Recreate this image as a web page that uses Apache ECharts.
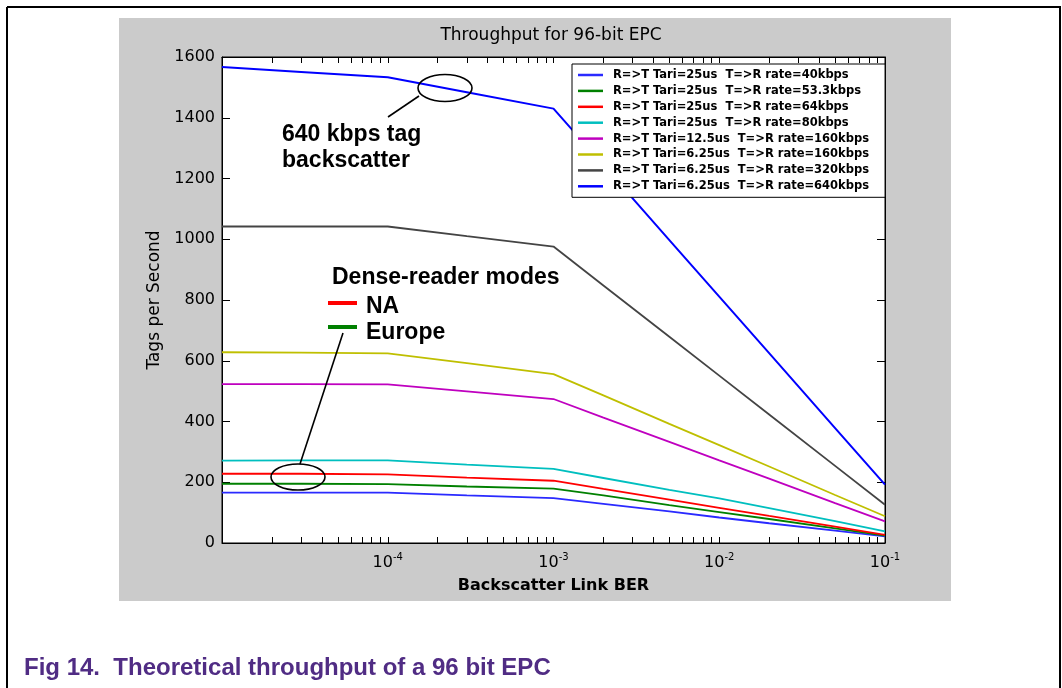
<!DOCTYPE html>
<html>
<head>
<meta charset="utf-8">
<script src="https://cdn.jsdelivr.net/npm/echarts@6/dist/echarts.min.js"></script>
<style>
  html, body { margin: 0; padding: 0; background: #fff; }
  #chart { width: 1062px; height: 688px; }
</style>
</head>
<body>
<div id="chart"></div>
<script>
// backscatter link BER (x) and tags per second for each mode
var ber = [1e-5, 3e-5, 1e-4, 3e-4, 1e-3, 2e-3, 5e-3, 1e-2, 2e-2, 5e-2, 1e-1];
var rate40 = [166, 166, 166, 157, 148, 129, 104, 84, 65, 41, 22];
var rate53 = [195, 195, 194, 186, 179, 157, 125, 102, 79, 48, 24];
var rate64 = [228, 228, 226, 215, 205, 178, 143, 116, 89, 54, 27];
var rate80 = [271, 272, 272, 258, 244, 214, 175, 147, 115, 72, 38];
var rate160a = [523, 523, 522, 499, 474, 413, 333, 272, 212, 131, 71];
var rate160b = [628, 627, 624, 592, 556, 486, 392, 322, 252, 158, 88];
var rate320 = [1042, 1042, 1042, 1010, 976, 848, 679, 551, 423, 254, 126];
var rate640 = [1567, 1551, 1533, 1484, 1430, 1244, 997, 811, 625, 378, 192];

var names = [
  'R=>T Tari=25us  T=>R rate=40kbps',
  'R=>T Tari=25us  T=>R rate=53.3kbps',
  'R=>T Tari=25us  T=>R rate=64kbps',
  'R=>T Tari=25us  T=>R rate=80kbps',
  'R=>T Tari=12.5us  T=>R rate=160kbps',
  'R=>T Tari=6.25us  T=>R rate=160kbps',
  'R=>T Tari=6.25us  T=>R rate=320kbps',
  'R=>T Tari=6.25us  T=>R rate=640kbps'
];
var colors = ['#2a2aff', '#008000', '#ff0000', '#00bfbf', '#bf00bf', '#bfbf00', '#444444', '#0000ff'];
var allRates = [rate40, rate53, rate64, rate80, rate160a, rate160b, rate320, rate640];

// log axis ticks
var xLabelValues = [1e-4, 1e-3, 1e-2, 1e-1];
var xTickValues = [];
[1e-5, 1e-4, 1e-3, 1e-2].forEach(function (d) {
  for (var m = 1; m <= 10; m++) xTickValues.push(+(d * m).toPrecision(3));
});

var font = 'DejaVu Sans';
var annFont = 'bold 23px "Liberation Sans"';

var chart = echarts.init(document.getElementById('chart'));

var series = allRates.map(function (vals, i) {
  return {
    name: names[i],
    type: 'line',
    xAxisIndex: 0,
    yAxisIndex: 0,
    symbol: 'none',
    silent: true,
    data: ber.map(function (b, j) { return [b, vals[j]]; }),
    lineStyle: { color: colors[i], width: i === 7 ? 2 : 1.8 },
    itemStyle: { color: colors[i] }
  };
});

function xAxisBase(pos) {
  return {
    type: 'log', logBase: 10, min: 1e-5, max: 1e-1, position: pos,
    axisLine: { onZero: false, lineStyle: { color: '#000', width: 1 } },
    axisTick: { inside: true, length: 6, customValues: xTickValues, lineStyle: { color: '#000' } },
    splitLine: { show: false }
  };
}
function yAxisBase(pos) {
  return {
    type: 'value', min: 0, max: 1600, interval: 200, position: pos,
    axisLine: { show: true, onZero: false, lineStyle: { color: '#000', width: 1 } },
    axisTick: { show: true, inside: true, length: 8, lineStyle: { color: '#000' } },
    splitLine: { show: false }
  };
}

var xBottom = xAxisBase('bottom');
xBottom.name = 'Backscatter Link BER';
xBottom.nameLocation = 'middle';
xBottom.nameGap = 35;
xBottom.nameTextStyle = { fontFamily: font, fontWeight: 'bold', fontSize: 16, color: '#000' };
xBottom.axisLabel = {
  customValues: xLabelValues,
  margin: 9,
  formatter: function (v) { return '{b|10}{s|' + Math.round(Math.log10(v)) + '}'; },
  rich: {
    b: { fontFamily: font, fontSize: 16, color: '#000', lineHeight: 22 },
    s: { fontFamily: font, fontSize: 10, color: '#000', lineHeight: 6, verticalAlign: 'top' }
  }
};
var xTop = xAxisBase('top');
xTop.axisLabel = { show: false };

var yLeft = yAxisBase('left');
yLeft.name = 'Tags per Second';
yLeft.nameLocation = 'middle';
yLeft.nameGap = 58;
yLeft.nameTextStyle = { fontFamily: font, fontSize: 17, color: '#000' };
yLeft.axisLabel = { fontFamily: font, fontSize: 16, color: '#000', margin: 7, formatter: function (v) { return String(v); } };
var yRight = yAxisBase('right');
yRight.axisLabel = { show: false };

chart.setOption({
  animation: false,
  grid: {
    left: 222, right: 177, top: 57, bottom: 145,
    show: true, backgroundColor: '#fff', borderColor: '#000', borderWidth: 1
  },
  legend: {
    orient: 'vertical',
    left: 572, top: 64,
    icon: 'rect',
    itemWidth: 25, itemHeight: 2.5, itemGap: 1.9,
    padding: [4, 16, 4, 6],
    backgroundColor: '#fff', borderColor: '#000', borderWidth: 1,
    selectedMode: false,
    textStyle: { fontFamily: font, fontWeight: 'bold', fontSize: 11.5, lineHeight: 14, color: '#000', padding: [0, 0, 0, 5] },
    data: names
  },
  xAxis: [xBottom, xTop],
  yAxis: [yLeft, yRight],
  graphic: [
    // page frame and figure background
    { type: 'line', z: -2, shape: { x1: 7, y1: 7, x2: 1061, y2: 7 }, style: { stroke: '#000', lineWidth: 2 } },
    { type: 'line', z: -2, shape: { x1: 7, y1: 7, x2: 7, y2: 688 }, style: { stroke: '#000', lineWidth: 2 } },
    { type: 'line', z: -2, shape: { x1: 1060, y1: 7, x2: 1060, y2: 688 }, style: { stroke: '#000', lineWidth: 2 } },
    { type: 'rect', z: -1, shape: { x: 119, y: 18, width: 832, height: 583 }, style: { fill: '#cbcbcb' } },
    // title
    { type: 'text', z: 10, style: { x: 551, y: 36, text: 'Throughput for 96-bit EPC', align: 'center', verticalAlign: 'middle',
      font: '17px "DejaVu Sans"', fill: '#000' } },
    // annotation: 640 kbps
    { type: 'ellipse', z: 100, shape: { cx: 445, cy: 88, rx: 27, ry: 13.5 }, style: { fill: null, stroke: '#000', lineWidth: 1.6 } },
    { type: 'line', z: 100, shape: { x1: 388, y1: 117, x2: 419, y2: 96 }, style: { stroke: '#000', lineWidth: 1.6 } },
    { type: 'text', z: 100, style: { x: 282, y: 135, text: '640 kbps tag', verticalAlign: 'middle', font: annFont, fill: '#000' } },
    { type: 'text', z: 100, style: { x: 282, y: 161, text: 'backscatter', verticalAlign: 'middle', font: annFont, fill: '#000' } },
    // annotation: dense-reader modes
    { type: 'text', z: 100, style: { x: 332, y: 278, text: 'Dense-reader modes', verticalAlign: 'middle', font: annFont, fill: '#000' } },
    { type: 'line', z: 100, shape: { x1: 328, y1: 303, x2: 357, y2: 303 }, style: { stroke: '#ff0000', lineWidth: 4 } },
    { type: 'text', z: 100, style: { x: 366, y: 307, text: 'NA', verticalAlign: 'middle', font: annFont, fill: '#000' } },
    { type: 'line', z: 100, shape: { x1: 328, y1: 327, x2: 357, y2: 327 }, style: { stroke: '#008000', lineWidth: 4 } },
    { type: 'text', z: 100, style: { x: 366, y: 333, text: 'Europe', verticalAlign: 'middle', font: annFont, fill: '#000' } },
    { type: 'ellipse', z: 100, shape: { cx: 298, cy: 477, rx: 27, ry: 13 }, style: { fill: null, stroke: '#000', lineWidth: 1.6 } },
    { type: 'line', z: 100, shape: { x1: 300, y1: 464, x2: 343, y2: 333 }, style: { stroke: '#000', lineWidth: 1.6 } },
    // caption
    { type: 'text', z: 10, style: { x: 24, y: 668, text: 'Fig 14.  Theoretical throughput of a 96 bit EPC', verticalAlign: 'middle',
      font: 'bold 24px "Liberation Sans"', fill: '#502c84' } }
  ],
  series: series
});
</script>
</body>
</html>
